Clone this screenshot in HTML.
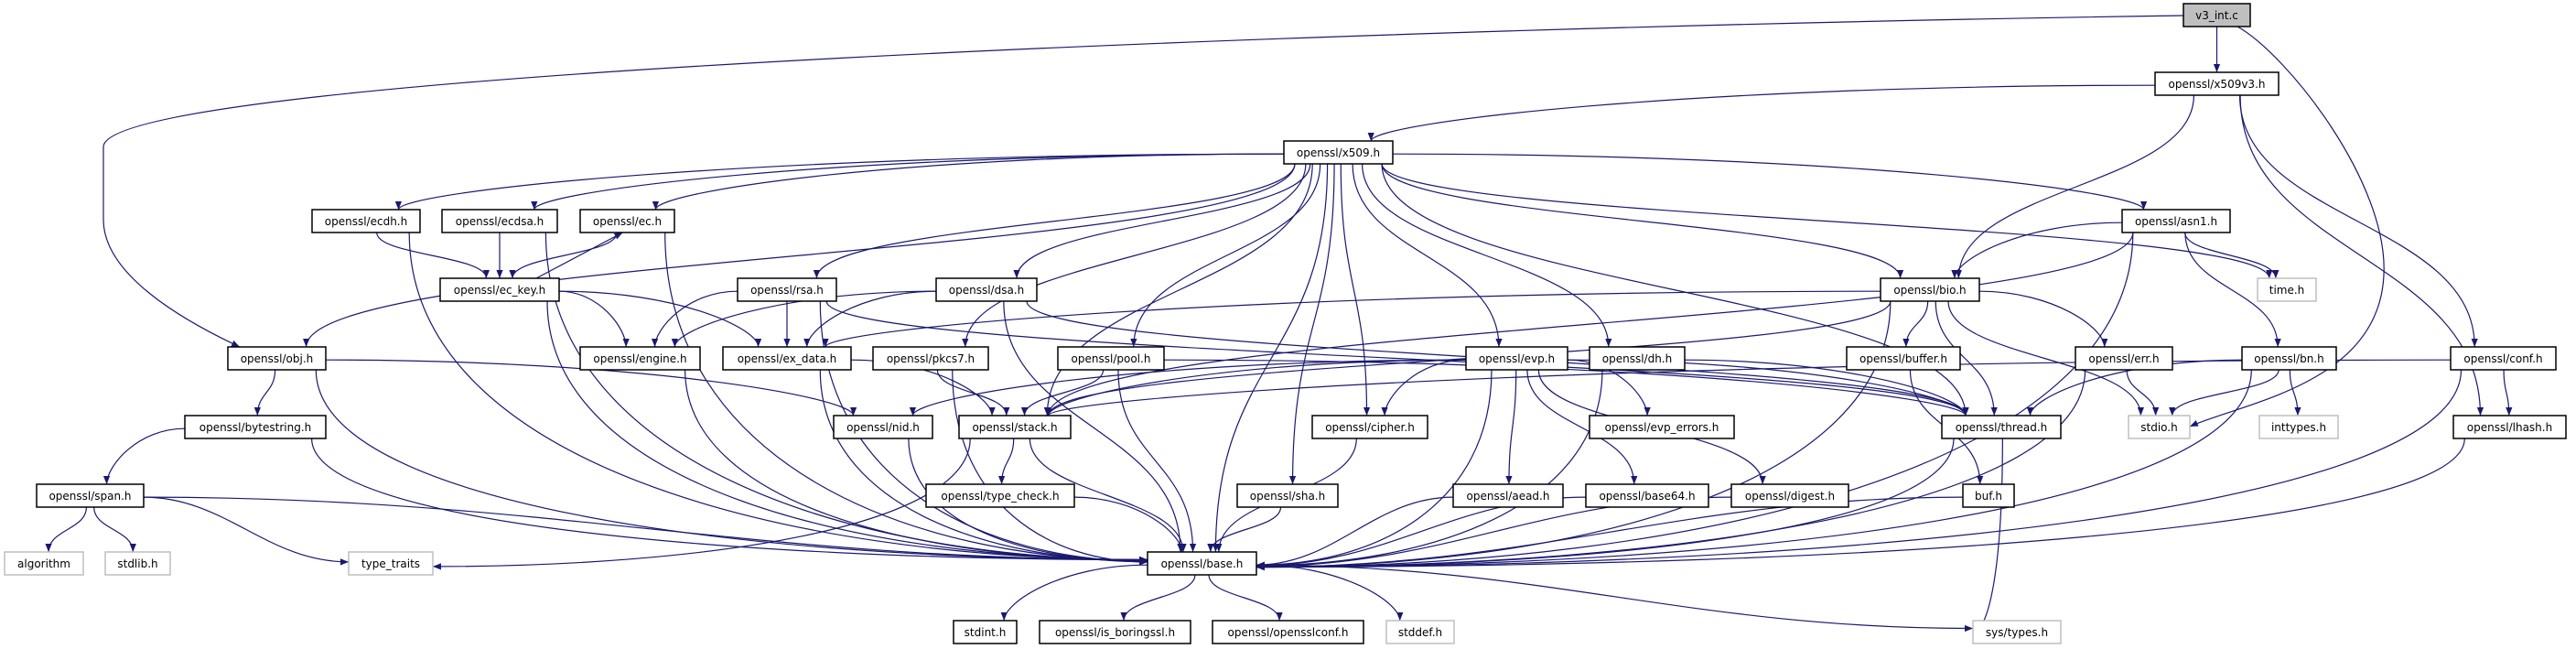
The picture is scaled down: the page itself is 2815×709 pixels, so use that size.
<!DOCTYPE html>
<html><head><meta charset="utf-8"><style>
html,body{margin:0;padding:0;background:#fff;width:2815px;height:709px;overflow:hidden}
svg{display:block}
text{font-family:"DejaVu Sans","Liberation Sans",sans-serif;font-size:12px;fill:#000}
</style></head><body>
<svg id="g" width="2815" height="709" viewBox="0 0 2815 709" xmlns="http://www.w3.org/2000/svg">
<defs><marker id="a" viewBox="0 0 10 10" refX="10" refY="5" markerWidth="9" markerHeight="9" markerUnits="userSpaceOnUse" orient="auto"><path d="M0,1 L10,5 L0,9 z" fill="#191970"/></marker></defs>
<g id="edges" fill="none" stroke="#191970" stroke-width="1.2">
<path d="M2386,17 C1500,30 120,80 113,160 L113,240 C113,300 200,350 262,379" marker-end="url(#a)"/>
<path d="M2445,29 C2500,60 2610,200 2605,300 C2600,420 2450,440 2393,466" marker-end="url(#a)"/>
</g>
<g id="nodes">
<rect x="2386" y="4" width="73" height="25" fill="#bfbfbf" stroke="#000" stroke-width="1.5"/><text x="2422.5" y="21" text-anchor="middle">v3_int.c</text>
<rect x="2355" y="79" width="135" height="25" fill="#fff" stroke="#000" stroke-width="1.5"/><text x="2422.5" y="96" text-anchor="middle">openssl/x509v3.h</text>
<rect x="1403" y="154" width="119" height="25" fill="#fff" stroke="#000" stroke-width="1.5"/><text x="1462.5" y="171" text-anchor="middle">openssl/x509.h</text>
<rect x="341" y="229" width="118" height="25" fill="#fff" stroke="#000" stroke-width="1.5"/><text x="400" y="246" text-anchor="middle">openssl/ecdh.h</text>
<rect x="483" y="229" width="126" height="25" fill="#fff" stroke="#000" stroke-width="1.5"/><text x="546" y="246" text-anchor="middle">openssl/ecdsa.h</text>
<rect x="634" y="229" width="103" height="25" fill="#fff" stroke="#000" stroke-width="1.5"/><text x="685.5" y="246" text-anchor="middle">openssl/ec.h</text>
<rect x="2319" y="229" width="118" height="25" fill="#fff" stroke="#000" stroke-width="1.5"/><text x="2378" y="246" text-anchor="middle">openssl/asn1.h</text>
<rect x="481" y="304" width="130" height="25" fill="#fff" stroke="#000" stroke-width="1.5"/><text x="546" y="321" text-anchor="middle">openssl/ec_key.h</text>
<rect x="806" y="304" width="108" height="25" fill="#fff" stroke="#000" stroke-width="1.5"/><text x="860" y="321" text-anchor="middle">openssl/rsa.h</text>
<rect x="1023" y="304" width="110" height="25" fill="#fff" stroke="#000" stroke-width="1.5"/><text x="1078" y="321" text-anchor="middle">openssl/dsa.h</text>
<rect x="2055" y="304" width="108" height="25" fill="#fff" stroke="#000" stroke-width="1.5"/><text x="2109" y="321" text-anchor="middle">openssl/bio.h</text>
<rect x="2467" y="304" width="64" height="25" fill="#fff" stroke="#bfbfbf" stroke-width="1.5"/><text x="2499" y="321" text-anchor="middle">time.h</text>
<rect x="249" y="379" width="107" height="25" fill="#fff" stroke="#000" stroke-width="1.5"/><text x="302.5" y="396" text-anchor="middle">openssl/obj.h</text>
<rect x="634" y="379" width="131" height="25" fill="#fff" stroke="#000" stroke-width="1.5"/><text x="699.5" y="396" text-anchor="middle">openssl/engine.h</text>
<rect x="790" y="379" width="140" height="25" fill="#fff" stroke="#000" stroke-width="1.5"/><text x="860" y="396" text-anchor="middle">openssl/ex_data.h</text>
<rect x="954" y="379" width="126" height="25" fill="#fff" stroke="#000" stroke-width="1.5"/><text x="1017" y="396" text-anchor="middle">openssl/pkcs7.h</text>
<rect x="1156" y="379" width="116" height="25" fill="#fff" stroke="#000" stroke-width="1.5"/><text x="1214" y="396" text-anchor="middle">openssl/pool.h</text>
<rect x="1602" y="379" width="111" height="25" fill="#fff" stroke="#000" stroke-width="1.5"/><text x="1657.5" y="396" text-anchor="middle">openssl/evp.h</text>
<rect x="1737" y="379" width="104" height="25" fill="#fff" stroke="#000" stroke-width="1.5"/><text x="1789" y="396" text-anchor="middle">openssl/dh.h</text>
<rect x="2018" y="379" width="124" height="25" fill="#fff" stroke="#000" stroke-width="1.5"/><text x="2080" y="396" text-anchor="middle">openssl/buffer.h</text>
<rect x="2268" y="379" width="106" height="25" fill="#fff" stroke="#000" stroke-width="1.5"/><text x="2321" y="396" text-anchor="middle">openssl/err.h</text>
<rect x="2450" y="379" width="103" height="25" fill="#fff" stroke="#000" stroke-width="1.5"/><text x="2501.5" y="396" text-anchor="middle">openssl/bn.h</text>
<rect x="2678" y="379" width="115" height="25" fill="#fff" stroke="#000" stroke-width="1.5"/><text x="2735.5" y="396" text-anchor="middle">openssl/conf.h</text>
<rect x="202" y="454" width="154" height="25" fill="#fff" stroke="#000" stroke-width="1.5"/><text x="279" y="471" text-anchor="middle">openssl/bytestring.h</text>
<rect x="911" y="454" width="108" height="25" fill="#fff" stroke="#000" stroke-width="1.5"/><text x="965" y="471" text-anchor="middle">openssl/nid.h</text>
<rect x="1048" y="454" width="122" height="25" fill="#fff" stroke="#000" stroke-width="1.5"/><text x="1109" y="471" text-anchor="middle">openssl/stack.h</text>
<rect x="1434" y="454" width="126" height="25" fill="#fff" stroke="#000" stroke-width="1.5"/><text x="1497" y="471" text-anchor="middle">openssl/cipher.h</text>
<rect x="1737" y="454" width="158" height="25" fill="#fff" stroke="#000" stroke-width="1.5"/><text x="1816" y="471" text-anchor="middle">openssl/evp_errors.h</text>
<rect x="2122" y="454" width="130" height="25" fill="#fff" stroke="#000" stroke-width="1.5"/><text x="2187" y="471" text-anchor="middle">openssl/thread.h</text>
<rect x="2326" y="454" width="67" height="25" fill="#fff" stroke="#bfbfbf" stroke-width="1.5"/><text x="2359.5" y="471" text-anchor="middle">stdio.h</text>
<rect x="2469" y="454" width="86" height="25" fill="#fff" stroke="#bfbfbf" stroke-width="1.5"/><text x="2512" y="471" text-anchor="middle">inttypes.h</text>
<rect x="2681" y="454" width="123" height="25" fill="#fff" stroke="#000" stroke-width="1.5"/><text x="2742.5" y="471" text-anchor="middle">openssl/lhash.h</text>
<rect x="40" y="529" width="117" height="25" fill="#fff" stroke="#000" stroke-width="1.5"/><text x="98.5" y="546" text-anchor="middle">openssl/span.h</text>
<rect x="1012" y="529" width="162" height="25" fill="#fff" stroke="#000" stroke-width="1.5"/><text x="1093" y="546" text-anchor="middle">openssl/type_check.h</text>
<rect x="1352" y="529" width="110" height="25" fill="#fff" stroke="#000" stroke-width="1.5"/><text x="1407" y="546" text-anchor="middle">openssl/sha.h</text>
<rect x="1588" y="529" width="120" height="25" fill="#fff" stroke="#000" stroke-width="1.5"/><text x="1648" y="546" text-anchor="middle">openssl/aead.h</text>
<rect x="1733" y="529" width="134" height="25" fill="#fff" stroke="#000" stroke-width="1.5"/><text x="1800" y="546" text-anchor="middle">openssl/base64.h</text>
<rect x="1892" y="529" width="128" height="25" fill="#fff" stroke="#000" stroke-width="1.5"/><text x="1956" y="546" text-anchor="middle">openssl/digest.h</text>
<rect x="2145" y="529" width="56" height="25" fill="#fff" stroke="#000" stroke-width="1.5"/><text x="2173" y="546" text-anchor="middle">buf.h</text>
<rect x="5" y="603" width="86" height="25" fill="#fff" stroke="#bfbfbf" stroke-width="1.5"/><text x="48" y="620" text-anchor="middle">algorithm</text>
<rect x="115" y="603" width="71" height="25" fill="#fff" stroke="#bfbfbf" stroke-width="1.5"/><text x="150.5" y="620" text-anchor="middle">stdlib.h</text>
<rect x="381" y="603" width="92" height="25" fill="#fff" stroke="#bfbfbf" stroke-width="1.5"/><text x="427" y="620" text-anchor="middle">type_traits</text>
<rect x="1254" y="603" width="119" height="25" fill="#fff" stroke="#000" stroke-width="1.5"/><text x="1313.5" y="620" text-anchor="middle">openssl/base.h</text>
<rect x="1042" y="678" width="69" height="25" fill="#fff" stroke="#000" stroke-width="1.5"/><text x="1076.5" y="695" text-anchor="middle">stdint.h</text>
<rect x="1136" y="678" width="165" height="25" fill="#fff" stroke="#000" stroke-width="1.5"/><text x="1218.5" y="695" text-anchor="middle">openssl/is_boringssl.h</text>
<rect x="1325" y="678" width="165" height="25" fill="#fff" stroke="#000" stroke-width="1.5"/><text x="1407.5" y="695" text-anchor="middle">openssl/opensslconf.h</text>
<rect x="1515" y="678" width="74" height="25" fill="#fff" stroke="#bfbfbf" stroke-width="1.5"/><text x="1552" y="695" text-anchor="middle">stddef.h</text>
<rect x="2156" y="678" width="96" height="25" fill="#fff" stroke="#bfbfbf" stroke-width="1.5"/><text x="2204" y="695" text-anchor="middle">sys/types.h</text>
</g>
</svg>
<script>
(function(){
var N={};
document.querySelectorAll('#nodes rect').forEach(function(r){
 var t=r.nextElementSibling;var x=+r.getAttribute('x'),y=+r.getAttribute('y'),w=+r.getAttribute('width'),h=+r.getAttribute('height');
 N[t.textContent.replace('openssl/','')]={x:x,y:y,w:w,h:h,cx:x+w/2,cy:y+h/2};
});
var E=[["v3_int.c","x509v3.h"],
["x509v3.h","x509.h"],["x509v3.h","bio.h"],["x509v3.h","conf.h"],["x509v3.h","lhash.h"],
["x509.h","ecdh.h"],["x509.h","ecdsa.h"],["x509.h","ec.h"],["x509.h","obj.h"],["x509.h","rsa.h"],["x509.h","dsa.h"],["x509.h","pkcs7.h"],["x509.h","pool.h"],["x509.h","stack.h"],["x509.h","base.h"],["x509.h","sha.h"],["x509.h","cipher.h"],["x509.h","evp.h"],["x509.h","dh.h"],["x509.h","asn1.h"],["x509.h","bio.h"],["x509.h","thread.h"],["x509.h","time.h"],
["asn1.h","bio.h"],["asn1.h","time.h"],["asn1.h","bn.h"],["asn1.h","base.h"],["asn1.h","stack.h"],
["bio.h","ex_data.h"],["bio.h","stack.h"],["bio.h","buffer.h"],["bio.h","thread.h"],["bio.h","err.h"],["bio.h","stdio.h"],["bio.h","base.h"],
["ecdh.h","ec_key.h"],["ecdh.h","base.h"],["ecdsa.h","ec_key.h"],["ecdsa.h","base.h"],["ec.h","ec_key.h"],["ec.h","base.h"],["ec_key.h","ec.h"],["ec_key.h","engine.h"],["ec_key.h","ex_data.h"],["ec_key.h","base.h"],
["rsa.h","engine.h"],["rsa.h","ex_data.h"],["rsa.h","thread.h"],["rsa.h","base.h"],
["dsa.h","engine.h"],["dsa.h","ex_data.h"],["dsa.h","thread.h"],["dsa.h","base.h"],
["obj.h","bytestring.h"],["obj.h","nid.h"],["obj.h","base.h"],["bytestring.h","span.h"],["bytestring.h","base.h"],
["span.h","algorithm"],["span.h","stdlib.h"],["span.h","type_traits"],["span.h","base.h"],
["engine.h","base.h"],["ex_data.h","stack.h"],["ex_data.h","base.h"],["pkcs7.h","stack.h"],["pkcs7.h","base.h"],["pool.h","stack.h"],["pool.h","base.h"],["pool.h","thread.h"],
["evp.h","nid.h"],["evp.h","stack.h"],["evp.h","cipher.h"],["evp.h","evp_errors.h"],["evp.h","aead.h"],["evp.h","base64.h"],["evp.h","digest.h"],["evp.h","base.h"],["evp.h","thread.h"],
["dh.h","thread.h"],["dh.h","base.h"],["stack.h","type_check.h"],["stack.h","base.h"],["stack.h","type_traits"],["nid.h","base.h"],["cipher.h","base.h"],["type_check.h","base.h"],["sha.h","base.h"],["aead.h","base.h"],["base64.h","base.h"],["digest.h","base.h"],
["buffer.h","buf.h"],["buf.h","base.h"],["err.h","stdio.h"],["err.h","base.h"],["bn.h","thread.h"],["bn.h","stdio.h"],["bn.h","inttypes.h"],["bn.h","base.h"],["conf.h","stack.h"],["conf.h","lhash.h"],["conf.h","base.h"],["lhash.h","base.h"],
["thread.h","base.h"],["thread.h","sys/types.h"],["base.h","stdint.h"],["base.h","is_boringssl.h"],["base.h","opensslconf.h"],["base.h","stddef.h"],["base.h","sys/types.h"]];
var g=document.getElementById('edges'),s='';
var side={"type_traits":1,"sys/types.h":1};
E.forEach(function(e){var a=N[e[0]],b=N[e[1]];if(!a||!b)return;
 var sx,sy,tx,ty,d;
 if(b.y<a.y){
  d='M'+(a.cx+40)+','+a.y+' L'+(b.cx-5)+','+(b.y+b.h);
 } else {
  var dx=b.cx-a.cx,dy=b.y-(a.y+a.h);
  var fromSide=Math.abs(dx)>3*dy && Math.abs(dx)>a.w && dy<60;
  if(fromSide){sx=dx>0?a.x+a.w:a.x;sy=a.cy+Math.max(-6,Math.min(6,dy/30));}
  else{sx=a.cx+Math.max(-a.w*0.4,Math.min(a.w*0.4,dx*0.08));sy=a.y+a.h;}
  var toSide=((e[1]=="base.h")&&Math.abs(dx)>250)||side[e[1]];
  if(toSide){
   tx=dx>0?b.x:b.x+b.w;ty=b.cy+(dx>0?-4:4)*Math.min(1,Math.abs(dx)/800);
   if(fromSide) d='M'+sx+','+sy+' C'+(sx+(tx-sx)*0.4)+','+sy+' '+(tx-(tx-sx)*0.4)+','+ty+' '+tx+','+ty;
   else d='M'+sx+','+sy+' C'+sx+','+(sy+(ty-sy)*0.7)+' '+(tx-(tx-sx)*0.5)+','+ty+' '+tx+','+ty;
  } else {
   tx=b.cx-Math.max(-b.w*0.3,Math.min(b.w*0.3,dx*0.1));ty=b.y;
   if(fromSide) d='M'+sx+','+sy+' C'+(sx+(tx-sx)*0.6)+','+sy+' '+tx+','+(ty-dy*0.4)+' '+tx+','+ty;
   else d='M'+sx+','+sy+' C'+sx+','+(sy+dy*0.5)+' '+tx+','+(ty-dy*0.5)+' '+tx+','+ty;
  }
 }
 s+='<path d="'+d+'" marker-end="url(#a)"/>';
});
g.innerHTML+=s;
})();
</script>
</body></html>
